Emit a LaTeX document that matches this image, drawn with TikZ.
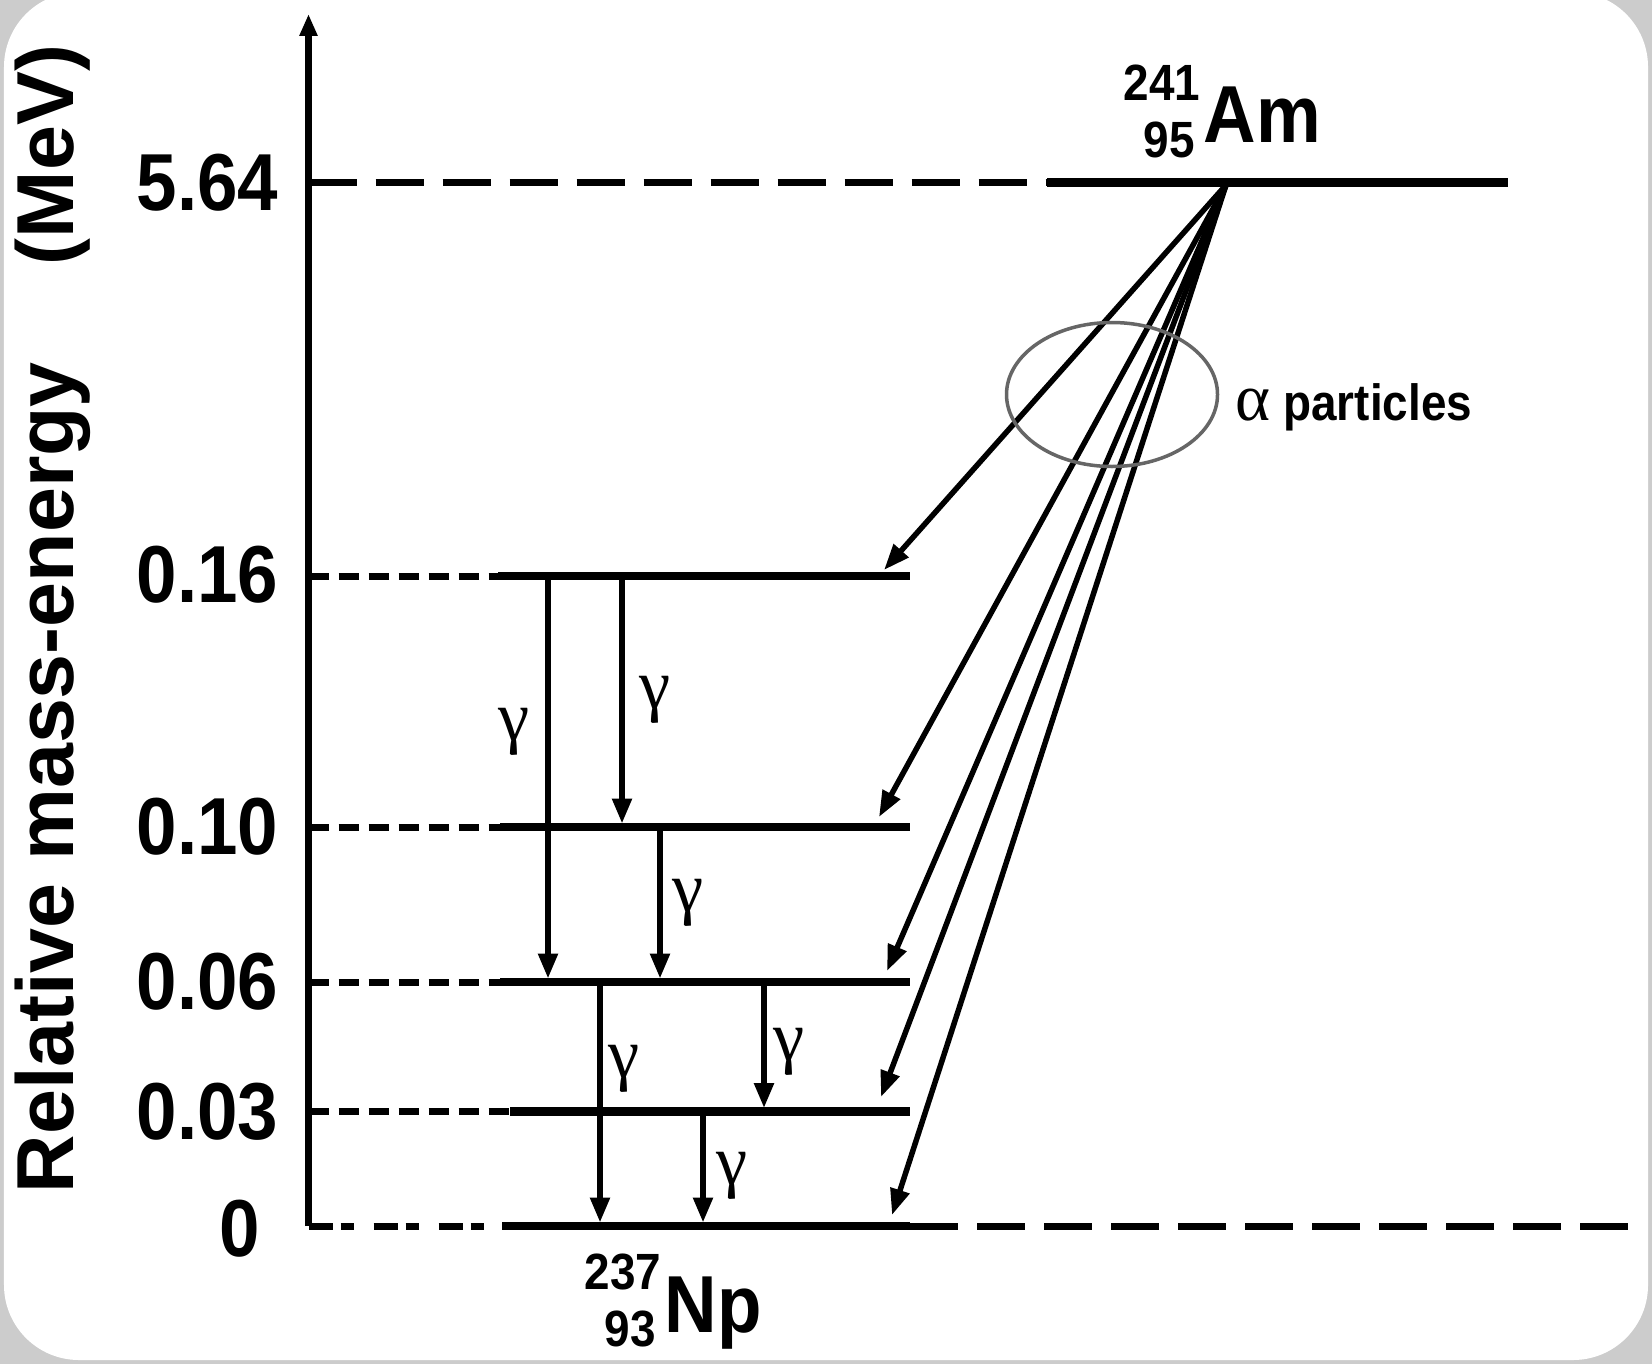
\documentclass[tikz,border=0pt]{standalone}
\usepackage{fontspec}
\setmainfont{Liberation Sans}
\newfontfamily\narrowsans[FakeStretch=0.9]{Liberation Sans}
\newfontfamily\symbfont{Liberation Serif}
\usetikzlibrary{arrows.meta}

\definecolor{framegray}{gray}{0.8}
\definecolor{ringgray}{gray}{0.4}

% mass number over atomic number, left of the symbol
\newcommand{\nuclide}[3]{%
  \makebox[0pt][r]{\fontsize{14.5}{14.5}\selectfont\raisebox{12pt}{#1}\hspace{1pt}}%
  \makebox[0pt][r]{\fontsize{14.5}{14.5}\selectfont\raisebox{-4.2pt}{#2}\hspace{2.5pt}}#3}

\begin{document}
\begin{tikzpicture}[
  level/.style={line width=0.85mm},
  leftdash/.style={line width=0.7mm,dash pattern=on 2mm off 1mm},
  zerodash/.style={line width=0.7mm,dash pattern=on 2.4mm off 0.8mm on 1.3mm off 2mm},
  longdash/.style={line width=0.7mm,dash pattern=on 4.8mm off 1.9mm},
  gam/.style={line width=0.55mm,shorten >=0.35mm,-{Triangle[length=2.5mm,width=1.9mm]}},
  alf/.style={line width=0.55mm,-{Triangle[length=2.6mm,width=1.9mm]}},
  tick/.style={font=\narrowsans\bfseries\fontsize{23}{23}\selectfont,anchor=east,inner sep=0pt},
  glab/.style={font=\symbfont\fontsize{20}{20}\selectfont,inner sep=0pt},
  nuc/.style={font=\narrowsans\bfseries\fontsize{23}{23}\selectfont,anchor=base west,inner sep=0pt},
]
\useasboundingbox (0,0) rectangle (16.52,13.64);
\fill[framegray] (0,0) rectangle (16.52,13.64);
\fill[white,rounded corners=0.75cm] (0.04,0.04) rectangle (16.48,13.72);

% energy axis
\coordinate (org) at (3.085,1.38);
\coordinate (top) at (3.085,13.50);
\draw[line width=0.65mm,-{Triangle[length=2.2mm,width=1.7mm]}] (org) -- (top);

% levels
\coordinate (a564) at (3.085,11.815);
\coordinate (b564) at (10.47,11.815);
\coordinate (e564) at (15.08,11.815);
\coordinate (a16) at (3.085,7.88);
\coordinate (b16) at (4.98,7.88);
\coordinate (e16) at (9.10,7.88);
\coordinate (a10) at (3.085,5.37);
\coordinate (b10) at (5.00,5.37);
\coordinate (e10) at (9.10,5.37);
\coordinate (a06) at (3.085,3.82);
\coordinate (b06) at (5.00,3.82);
\coordinate (e06) at (9.10,3.82);
\coordinate (a03) at (3.085,2.525);
\coordinate (b03) at (5.10,2.525);
\coordinate (e03) at (9.10,2.525);
\coordinate (a0) at (3.085,1.38);
\coordinate (b0) at (5.02,1.38);
\coordinate (e0) at (9.10,1.38);
\coordinate (f0) at (16.37,1.38);

\draw[longdash] (a564) -- (b564);
\draw[level] (b564) -- (e564);
\draw[leftdash] (a16) -- (b16);
\draw[level] (b16) -- (e16);
\draw[leftdash] (a10) -- (b10);
\draw[level] (b10) -- (e10);
\draw[leftdash] (a06) -- (b06);
\draw[level] (b06) -- (e06);
\draw[leftdash] (a03) -- (b03);
\draw[level] (b03) -- (e03);
\draw[zerodash] (a0) -- (b0);
\draw[level] (b0) -- (e0);
\draw[longdash] (e0) -- (f0);

% axis labels
\node[tick] (k564) at (2.79,11.815) {5.64};
\node[tick] (k16) at (2.79,7.89) {0.16};
\node[tick] (k10) at (2.79,5.37) {0.10};
\node[tick] (k06) at (2.79,3.82) {0.06};
\node[tick] (k03) at (2.79,2.525) {0.03};
\node[tick] (k0) at (2.61,1.35) {0};
\node[font=\bfseries\fontsize{23}{23}\selectfont,rotate=90,anchor=base,inner sep=0pt] (ytitle) at (0.74,7.45) {Relative mass-energy\hspace{1.2em}(MeV)};

% nuclides
\node[nuc] (am) at (12.03,12.21) {\nuclide{241}{95}{Am}};
\node[nuc] (np) at (6.64,0.32) {\nuclide{237}{93}{Np}};

% alpha decays
\coordinate (src) at (12.26,11.79);
\coordinate (t16) at (8.84,7.94);
\coordinate (t10) at (8.79,5.47);
\coordinate (t06) at (8.87,3.93);
\coordinate (t03) at (8.81,2.67);
\coordinate (t0) at (8.92,1.49);
\draw[alf] (src) -- (t16);
\draw[alf] (src) -- (t10);
\draw[alf] (src) -- (t06);
\draw[alf] (src) -- (t03);
\draw[alf] (src) -- (t0);
\draw[ringgray,line width=0.35mm] (11.12,9.695) ellipse (1.055 and 0.72);
\node[anchor=base west,inner sep=0pt,font=\narrowsans\bfseries\fontsize{14.5}{14.5}\selectfont] (alab) at (12.35,9.44) {{\symbfont\mdseries\fontsize{19}{19}\selectfont α} particles};

% gamma transitions
\coordinate (g1) at (5.48,0);
\coordinate (g2) at (6.22,0);
\coordinate (g3) at (6.60,0);
\coordinate (g4) at (6.00,0);
\coordinate (g5) at (7.64,0);
\coordinate (g6) at (7.03,0);
\draw[gam] (g1 |- a16) -- (g1 |- a06);
\draw[gam] (g2 |- a16) -- (g2 |- a10);
\draw[gam] (g3 |- a10) -- (g3 |- a06);
\draw[gam] (g4 |- a06) -- (g4 |- a0);
\draw[gam] (g5 |- a06) -- (g5 |- a03);
\draw[gam] (g6 |- a03) -- (g6 |- a0);
\node[glab] (y1) at (5.14,6.32) {γ};
\node[glab] (y2) at (6.55,6.64) {γ};
\node[glab] (y3) at (6.88,4.61) {γ};
\node[glab] (y4) at (6.24,2.95) {γ};
\node[glab] (y5) at (7.89,3.12) {γ};
\node[glab] (y6) at (7.32,1.88) {γ};
\end{tikzpicture}
\end{document}
